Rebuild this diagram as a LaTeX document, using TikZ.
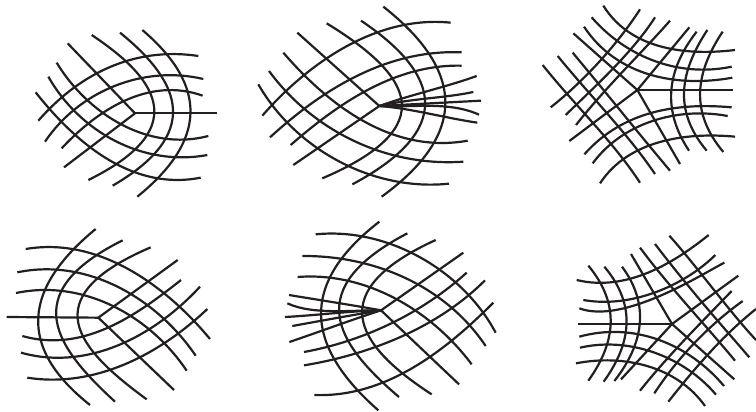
\documentclass[tikz,border=0pt]{standalone}
\usetikzlibrary{calc}
\definecolor{ink}{HTML}{231F20}
\tikzset{vein/.style={draw=ink, line width=2.2pt}}
% one smooth cubic through four points
\newcommand{\fibre}[4]{\draw[vein] (#1) .. controls ($3*(#2)-1.5*(#3)-0.83333*(#1)+0.33333*(#4)$) and ($3*(#3)-1.5*(#2)+0.33333*(#1)-0.83333*(#4)$) .. (#4);}
\begin{document}
\begin{tikzpicture}[x=0.33333pt, y=-0.33333pt]
  \useasboundingbox (0,0) rectangle (2268,1233);
  % top left
  \begin{scope}[shift={(60,30)}]
    \draw[vein] (345,310) -- (590,310);
    \draw[vein] (143,100) -- (345,310) -- (132,472);
    \fibre{55,332}{188,215}{349,145}{535,138}
    \fibre{75,395}{204,269}{370,203}{550,207}
    \fibre{125,415}{245,311}{389,247}{548,257}
    \fibre{215,75}{375,220}{387,365}{205,510}
    \fibre{300,68}{437,221}{443,374}{278,527}
    \fibre{367,60}{497,227}{492,393}{352,560}
    \fibre{110,158}{228,293}{386,376}{565,378}
    \fibre{85,200}{208,343}{374,427}{562,435}
    \fibre{47,247}{182,389}{348,488}{542,503}
  \end{scope}
  % top middle
  \begin{scope}[shift={(750,0)}]
    \fibre{388,318}{485,287}{583,259}{680,228}
    \fibre{388,318}{485,301}{580,290}{670,276}
    \draw[vein] (388,318) -- (693,302);
    \fibre{388,318}{488,318}{590,320}{687,344}
    \fibre{388,318}{485,331}{582,350}{682,368}
    \draw[vein] (142,98) -- (388,318) -- (130,495);
    \fibre{37,347}{196,199}{388,95}{602,68}
    \fibre{60,412}{229,280}{421,187}{635,157}
    \fibre{122,435}{274,317}{445,229}{635,197}
    \fibre{230,70}{420,225}{438,380}{217,535}
    \fibre{333,62}{502,226}{503,390}{307,553}
    \fibre{400,20}{564,210}{566,400}{395,590}
    \fibre{100,158}{254,306}{440,407}{653,422}
    \fibre{57,213}{217,368}{417,462}{640,485}
    \fibre{25,253}{173,423}{373,528}{597,551}
  \end{scope}
  % top right
  \begin{scope}[shift={(1605,0)}]
    \draw[vein] (307,270) -- (595,270);
    \draw[vein] (115,100) -- (307,270) -- (435,492);
    \draw[vein] (463,82) -- (307,270) -- (103,423);
    \fibre{205,17}{313,115}{453,153}{600,150}
    \fibre{170,52}{290,151}{434,203}{590,200}
    \fibre{147,80}{270,193}{426,240}{592,233}
    \fibre{485,95}{420,214}{412,333}{462,452}
    \fibre{517,90}{458,211}{452,331}{515,452}
    \fibre{563,95}{505,215}{501,335}{565,456}
    \fibre{148,463}{278,365}{429,323}{590,322}
    \fibre{173,490}{286,392}{428,345}{578,348}
    \fibre{195,550}{307,452}{451,411}{600,410}
    \fibre{315,28}{238,133}{146,234}{47,322}
    \fibre{360,52}{280,156}{186,254}{92,345}
    \fibre{405,62}{312,163}{215,267}{123,375}
    \fibre{23,195}{123,312}{223,426}{315,548}
    \fibre{68,168}{168,285}{268,401}{360,522}
    \fibre{113,158}{222,290}{307,394}{405,512}
  \end{scope}
  % bottom left
  \begin{scope}[shift={(0,645)}]
    \draw[vein] (20,306) -- (295,308);
    \draw[vein] (533,135) -- (295,308) -- (522,525);
    \fibre{77,102}{289,120}{477,223}{630,372}
    \fibre{52,172}{258,179}{443,271}{587,422}
    \fibre{48,234}{246,239}{423,324}{560,467}
    \fibre{452,97}{245,249}{272,401}{440,553}
    \fibre{368,76}{180,237}{202,399}{345,560}
    \fibre{287,42}{138,218}{128,394}{270,570}
    \fibre{67,363}{242,366}{401,297}{543,195}
    \fibre{63,413}{263,419}{447,343}{600,215}
    \fibre{82,488}{280,479}{463,403}{622,282}
  \end{scope}
  % bottom middle
  \begin{scope}[shift={(825,633)}]
    \fibre{318,298}{226,282}{134,267}{42,252}
    \fibre{318,298}{225,300}{125,298}{37,277}
    \fibre{318,298}{222,303}{126,311}{30,318}
    \fibre{318,298}{230,313}{140,329}{52,345}
    \fibre{318,298}{226,329}{135,361}{43,393}
    \draw[vein] (565,125) -- (318,298) -- (552,520);
    \fibre{122,70}{335,95}{525,200}{662,365}
    \fibre{82,135}{293,164}{483,254}{632,405}
    \fibre{68,198}{268,223}{447,317}{590,460}
    \fibre{482,87}{278,241}{294,396}{470,550}
    \fibre{397,67}{207,231}{222,394}{372,558}
    \fibre{313,32}{155,221}{160,409}{310,598}
    \fibre{87,423}{263,374}{428,294}{575,185}
    \fibre{87,463}{284,414}{470,330}{630,208}
    \fibre{118,552}{320,516}{499,413}{655,275}
  \end{scope}
  % bottom right
  \begin{scope}[shift={(1698,675)}]
    \draw[vein] (37,297) -- (318,297);
    \draw[vein] (195,87) -- (318,297) -- (505,463);
    \draw[vein] (165,463) -- (318,297) -- (517,152);
    \fibre{32,165}{177,165}{311,111}{428,30}
    \fibre{52,225}{197,222}{335,172}{448,90}
    \fibre{40,250}{196,244}{361,175}{475,113}
    \fibre{168,125}{219,239}{209,354}{145,468}
    \fibre{115,125}{176,240}{172,355}{113,470}
    \fibre{67,122}{128,237}{125,352}{67,467}
    \fibre{40,335}{201,325}{350,378}{474,483}
    \fibre{42,368}{192,364}{334,414}{450,509}
    \fibre{30,415}{174,409}{310,450}{417,543}
    \fibre{222,68}{314,183}{411,295}{507,407}
    \fibre{267,57}{363,178}{454,286}{550,397}
    \fibre{310,32}{397,136}{485,246}{570,345}
    \fibre{222,497}{310,394}{403,295}{497,198}
    \fibre{265,505}{342,402}{431,309}{530,228}
    \fibre{307,530}{389,430}{475,337}{570,252}
  \end{scope}
\end{tikzpicture}
\end{document}
